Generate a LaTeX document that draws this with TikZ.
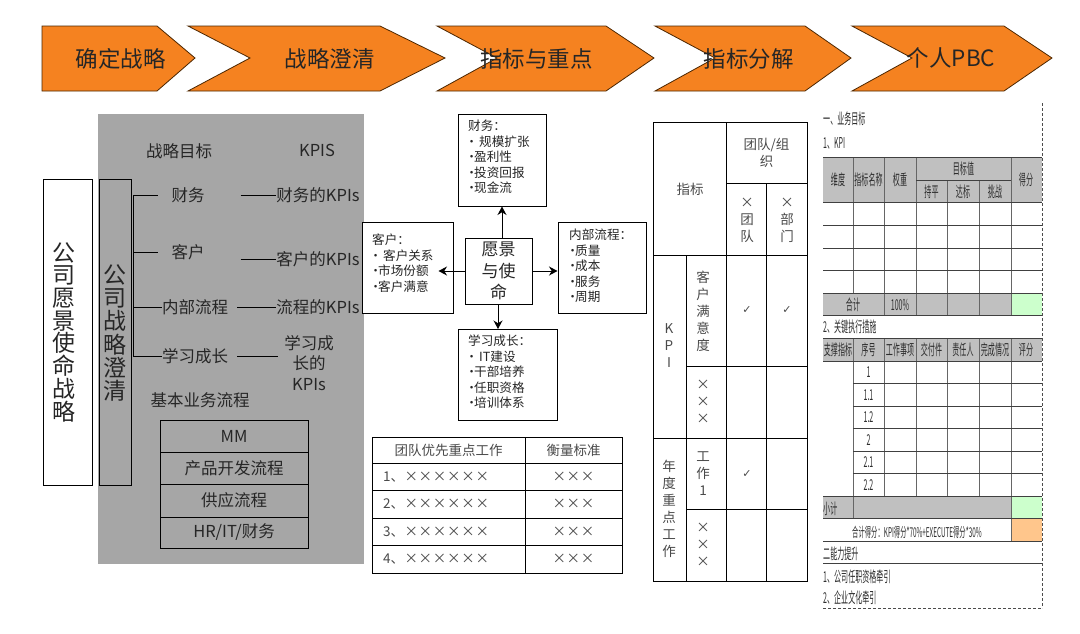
\documentclass[tikz,border=0pt]{standalone}
\usepackage{fontspec}
\setmainfont{Noto Sans CJK SC}
\newfontfamily\narrowcjk[FakeStretch=0.47]{Noto Sans CJK SC}
\newfontfamily\tickfont{DejaVu Sans}
\usetikzlibrary{arrows.meta}
\newcommand{\xmk}{\makebox[14.2pt]{×}}
\newcommand{\blt}{\hspace*{1pt}\makebox[5pt]{•}}
\tikzset{
  fs/.style 2 args={font=\fontsize{#1}{#2}\selectfont},
  chev/.style={draw=black!70!orange,fill=arrowor,line width=0.8pt},
  chevtext/.style={fs={22.5}{24},text=textdk,inner sep=0pt},
  lab/.style={fs={16.5}{20.5},text=textdk,inner sep=0pt,align=center},
  box/.style={draw=black,line width=1pt},
  bx/.style={fs={12.6}{15.5},text=textdk,inner sep=0pt,align=left},
  ln/.style={draw=black,line width=1pt},
  arw/.style={draw=black,line width=1pt,-{Stealth[length=8.5pt,width=9pt]}},
  tb/.style={draw=black,line width=1pt},
  ser/.style={fs={13.5}{17},text=textgr,inner sep=0pt,align=center},
  tick/.style={font=\fontsize{11}{13}\tickfont,text=textgr,inner sep=0pt},
  pbc/.style={font=\fontsize{15}{17}\narrowcjk,text=textpb,inner sep=0pt,align=center},
  pl/.style={draw=black!75,line width=1pt},
  pv/.style={draw=black!60,line width=0.7pt},
  pd/.style={draw=black!70,line width=0.7pt,densely dashed}
}
\definecolor{arrowor}{HTML}{F58220}
\definecolor{textdk}{HTML}{262626}
\definecolor{textgr}{HTML}{4A4A4A}
\definecolor{textpb}{HTML}{2E2E2E}
\definecolor{panelgr}{HTML}{A6A6A6}
\definecolor{pbcgr}{HTML}{C0C0C0}
\definecolor{pbcgn}{HTML}{CCFFCC}
\definecolor{pbcor}{HTML}{FFC68C}
\begin{document}
\begin{tikzpicture}[x=1pt,y=-1pt]
\useasboundingbox (0,0) rectangle (1080,633);
\fill[white] (0,0) rectangle (1080,633);
% top chevrons
\draw[chev] (42,26)--(157,26)--(195,58)--(157,91)--(42,91)--cycle;
\draw[chev] (188,26)--(380,26)--(445,58)--(380,91)--(188,91)--(250,58)--cycle;
\draw[chev] (437,26)--(606,26)--(654,58)--(606,91)--(437,91)--(497,58)--cycle;
\draw[chev] (655,26)--(805,26)--(851,58)--(805,91)--(655,91)--(715,58)--cycle;
\draw[chev] (852,26)--(1004,26)--(1052,58)--(1004,91)--(852,91)--(912,58)--cycle;
\node[chevtext] (c1) at (120.5,59) {确定战略};
\node[chevtext] (c2) at (329.5,59) {战略澄清};
\node[chevtext] (c3) at (536.5,59) {指标与重点};
\node[chevtext] (c4) at (748.5,59) {指标分解};
\node[chevtext] (c5) at (951,58) {个人PBC};
% left panel
\fill[panelgr] (98,114) rectangle (364,564);
\node[box,fill=white,minimum width=49pt,minimum height=306pt,inner sep=0pt] (vision) at (67.5,332) {};
\node[fs={23}{22.7},text=textdk,inner sep=0pt,align=center] (visiont) at (64,332) {公\\司\\愿\\景\\使\\命\\战\\略};
\node[box,fill=panelgr,minimum width=32pt,minimum height=306pt,inner sep=0pt] (clar) at (115,332) {};
\node[fs={23}{23.3},text=textdk,inner sep=0pt,align=center] (clart) at (115,333) {公\\司\\战\\略\\澄\\清};
\node[lab] (h1) at (179,151) {战略目标};
\node[lab] (h2) at (317,150) {KPIS};
\node[lab] (g1) at (188,195) {财务};
\node[lab] (g2) at (188,252) {客户};
\node[lab] (g3) at (195,307) {内部流程};
\node[lab] (g4) at (195,356) {学习成长};
\node[lab] (k1) at (318,195) {财务的KPIs};
\node[lab] (k2) at (318,259) {客户的KPIs};
\node[lab] (k3) at (318,307) {流程的KPIs};
\node[lab] (k4) at (309,363) {学习成\\长的\\KPIs};
\node[lab] (flow) at (200,400) {基本业务流程};
\coordinate (br1) at (133,195);
\coordinate (br2) at (133,252);
\coordinate (br3) at (133,307);
\coordinate (br4) at (133,356);
\draw[ln] (br1)--(br4);
\draw[ln,shorten >=13pt] (br1)--(g1.west);
\draw[ln,shorten >=13pt] (br2)--(g2.west);
\draw[ln] (br3)--(g3.west);
\draw[ln] (br4)--(g4.west);
\draw[ln,shorten <=36pt] (g1.east)--(k1.west);
\draw[ln,shorten <=36pt] (g2.east |- k2.west)--(k2.west);
\draw[ln,shorten <=9pt] (g3.east)--(k3.west);
\draw[ln,shorten <=9pt] (g4.east)--(278,356);
\node[box,lab,minimum width=148pt,minimum height=32pt] (s1) at (234,436) {MM};
\node[box,lab,minimum width=148pt,minimum height=32pt] (s2) at (234,468) {产品开发流程};
\node[box,lab,minimum width=148pt,minimum height=33pt] (s3) at (234,500.5) {供应流程};
\node[box,lab,minimum width=148pt,minimum height=31pt] (s4) at (234,532.5) {HR/IT/财务};
% central map
\node[box,minimum width=88pt,minimum height=92pt,fill=white] (fin) at (502,160) {};
\node[bx,anchor=north west] (fint) at (468,120) {财务：\\\blt\hspace{5pt}规模扩张\\\blt 盈利性\\\blt 投资回报\\\blt 现金流};
\node[box,minimum width=91pt,minimum height=91pt,fill=white] (cus) at (407.5,267.5) {};
\node[bx,anchor=north west] (cust) at (372,234) {客户：\\\blt\hspace{5pt}客户关系\\\blt 市场份额\\\blt 客户满意};
\node[box,minimum width=88pt,minimum height=91pt,fill=white] (pro) at (602,267.5) {};
\node[bx,anchor=north west] (prot) at (569,229) {内部流程：\\\blt 质量\\\blt 成本\\\blt 服务\\\blt 周期};
\node[box,minimum width=99pt,minimum height=91pt,fill=white] (lea) at (507.5,374.5) {};
\node[bx,anchor=north west] (leat) at (468,335) {学习成长：\\\blt\hspace{5pt}IT建设\\\blt 干部培养\\\blt 任职资格\\\blt 培训体系};
\node[box,minimum width=67pt,minimum height=66pt,fill=white,fs={17}{21.5},text=textdk,align=center,inner sep=0pt] (mis) at (498.5,271) {愿景\\与使\\命};
\draw[arw] (mis.north -| fin.south)--(fin.south);
\draw[arw,shorten >=-15pt] (mis.west)--(cus.east |- mis.west);
\draw[arw] (mis.east)--(pro.west |- mis.east);
\draw[arw] (mis.south -| 498,0)--(498,329);
% priorities table
\draw[tb] (372,437) rectangle (622,573);
\foreach \yy in {463,490,518,545} \draw[tb] (372,\yy)--(622,\yy);
\draw[tb] (525,437)--(525,573);
\node[ser] (t0a) at (448.5,450) {团队优先重点工作};
\node[ser] (t0b) at (573.5,450) {衡量标准};
\foreach \n/\yy in {1/477,2/504,3/532,4/559}{
  \node[ser,anchor=west] (t\n a) at (383,\yy) {\n、\xmk\xmk\xmk\xmk\xmk\xmk};
  \node[ser] (t\n b) at (573.5,\yy) {\xmk\xmk\xmk};
}
% matrix
\draw[tb] (653,122) rectangle (807,581);
\draw[tb] (726,122)--(726,581);
\draw[tb] (726,183)--(807,183);
\draw[tb] (766,183)--(766,581);
\draw[tb] (653,255)--(807,255);
\draw[tb] (686,255)--(686,581);
\draw[tb] (686,366)--(807,366);
\draw[tb] (653,438)--(807,438);
\draw[tb] (686,509)--(807,509);
\node[ser] (m1) at (690,189) {指标};
\node[ser] (m2) at (766.5,152.5) {团队/组\\织};
\node[ser] (m3) at (747,220) {×\\团\\队};
\node[ser] (m4) at (787,220) {×\\部\\门};
\node[ser] (m5) at (669,346) {K\\P\\I};
\node[ser] (m6) at (703,311) {客\\户\\满\\意\\度};
\node[tick] (m7) at (747,310) {✓};
\node[tick] (m8) at (787,310) {✓};
\node[ser] (m9) at (703,402) {×\\×\\×};
\node[ser] (m10) at (669,509) {年\\度\\重\\点\\工\\作};
\node[ser] (m11) at (703,474) {工\\作\\1};
\node[tick] (m12) at (747,474) {✓};
\node[ser] (m13) at (703,545) {×\\×\\×};
% PBC sheet
\fill[pbcgr] (823,157) rectangle (1042,202);
\fill[pbcgr] (823,293) rectangle (1011,315);
\fill[pbcgn] (1011,293) rectangle (1042,315);
\fill[pbcgr] (823,338) rectangle (1042,361);
\fill[pbcgr] (823,496) rectangle (1011,518);
\fill[pbcgn] (1011,496) rectangle (1042,518);
\fill[pbcor] (1011,518) rectangle (1042,541);
\foreach \xx in {853,884,916,1011} \draw[pv] (\xx,157)--(\xx,202);
\foreach \xx in {947,979} \draw[pv] (\xx,180)--(\xx,202);
\foreach \xx in {853,884,916,947,979,1011} \draw[pv] (\xx,202)--(\xx,293);
\foreach \xx in {884,916,947,979,1011} \draw[pv] (\xx,293)--(\xx,315);
\foreach \xx in {853,884,916,947,979,1011} \draw[pv] (\xx,338)--(\xx,496);
\foreach \xx in {853,1011} \draw[pv] (\xx,496)--(\xx,518);
\draw[pv] (1011,518)--(1011,541);
\foreach \yy in {157,202,225,248,270,293,315,338,361,496,518,541,563} \draw[pl] (823,\yy)--(1042,\yy);
\draw[pl] (916,180)--(1011,180);
\foreach \yy in {383,406,428,451,473} \draw[pl] (853,\yy)--(1042,\yy);
\draw[pd] (1042,103)--(1042,608);
\draw[pd,line width=1pt] (823,608)--(1042,608);
\node[pbc,anchor=west] (p1) at (823,119) {一、业务目标};
\node[pbc,anchor=west] (p2) at (823,143) {1、KPI};
\node[pbc] (p3) at (838,180) {维度};
\node[pbc] (p4) at (868.5,180) {指标名称};
\node[pbc] (p5) at (900,180) {权重};
\node[pbc] (p6) at (963.5,169) {目标值};
\node[pbc] (p7) at (931.5,192) {持平};
\node[pbc] (p8) at (963,192) {达标};
\node[pbc] (p9) at (995,192) {挑战};
\node[pbc] (p10) at (1026,180) {得分};
\node[pbc] (p11) at (853,305) {合计};
\node[pbc] (p12) at (900,305) {100\%};
\node[pbc,anchor=west] (p13) at (823,327) {2、关键执行措施};
\node[pbc] (p14) at (838,350) {支撑指标};
\node[pbc] (p15) at (868.5,350) {序号};
\node[pbc] (p16) at (900,350) {工作事项};
\node[pbc] (p17) at (931.5,350) {交付件};
\node[pbc] (p18) at (963,350) {责任人};
\node[pbc] (p19) at (995,350) {完成情况};
\node[pbc] (p20) at (1026,350) {评分};
\node[pbc] (p21) at (868.5,372) {1};
\node[pbc] (p22) at (868.5,395) {1.1};
\node[pbc] (p23) at (868.5,417) {1.2};
\node[pbc] (p24) at (868.5,440) {2};
\node[pbc] (p25) at (868.5,462) {2.1};
\node[pbc] (p26) at (868.5,485) {2.2};
\node[pbc,anchor=west] (p27) at (823,509) {小计};
\node[pbc,anchor=west,font=\fontsize{13.5}{15}\narrowcjk] (p28) at (852,532) {合计得分：KPI得分*70\%+EXECUTE得分*30\%};
\node[pbc,anchor=west] (p29) at (823,554) {二能力提升};
\node[pbc,anchor=west] (p30) at (823,577) {1、公司任职资格牵引};
\node[pbc,anchor=west] (p31) at (823,598) {2、企业文化牵引};
\end{tikzpicture}
\end{document}
